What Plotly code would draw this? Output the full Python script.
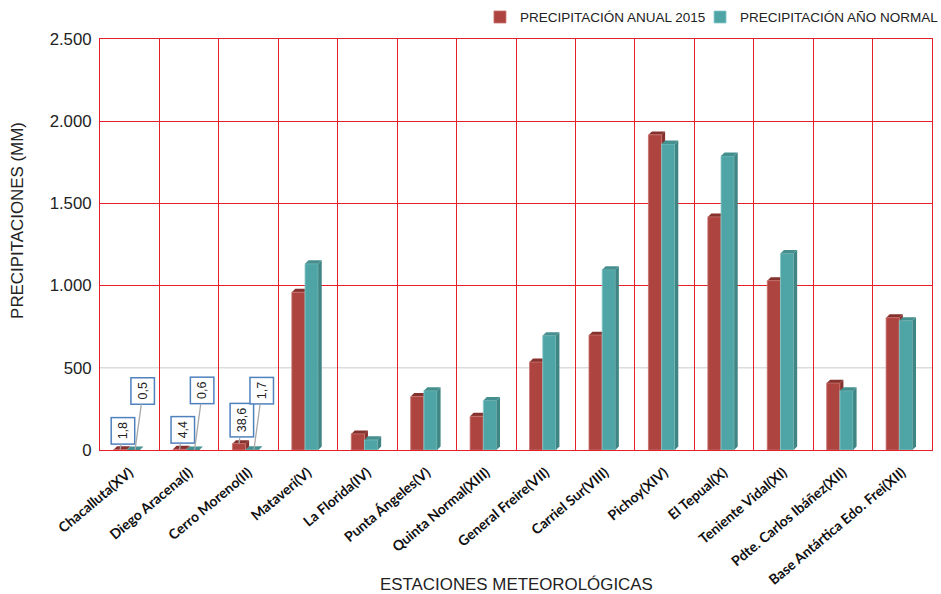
import plotly.graph_objects as go

# Estaciones meteorológicas y precipitaciones (mm)
estaciones = [
    "Chacalluta(XV)", "Diego Aracena(I)", "Cerro Moreno(II)", "Mataveri(V)",
    "La Florida(IV)", "Punta Ángeles(V)", "Quinta Normal(XIII)", "General Freire(VII)",
    "Carriel Sur(VIII)", "Pichoy(XIV)", "El Tepual(X)", "Teniente Vidal(XI)",
    "Pdte. Carlos Ibáñez(XII)", "Base Antártica Edo. Frei(XII)",
]
anual_2015 = [1.8, 4.4, 38.6, 960, 98, 325, 205, 535, 699, 1917, 1418, 1030, 407, 805]
ano_normal = [0.5, 0.6, 1.7, 1133, 62, 361, 301, 696, 1097, 1862, 1789, 1196, 361, 787]

# Valores rotulados en las estaciones del norte
rotulos_2015 = ["1,8", "4,4", "38,6"]
rotulos_normal = ["0,5", "0,6", "1,7"]

y_ticks = [0, 500, 1000, 1500, 2000, 2500]
y_grid_rojo = [1000, 1500, 2000]

ROJO = "#AE4440"
ROJO_OSC = "#85312E"
TEAL = "#4FA5A5"
TEAL_OSC = "#3E8583"
TEAL_TOP = "#458F8E"
GRID = "#E5202B"
FUENTE = "Liberation Sans, Arial"

ancho = 0.222     # ancho de cada barra (unidades de categoría)
desfase = -0.05   # desplazamiento del grupo respecto del centro
dx, dy = 0.059, 21  # profundidad del efecto 3D

idx = list(range(len(estaciones)))
x_rojo = [i + desfase - ancho / 2 for i in idx]
x_teal = [i + desfase + ancho / 2 for i in idx]

fig = go.Figure()
fig.add_trace(go.Bar(
    x=x_rojo, y=anual_2015, width=ancho, name="PRECIPITACIÓN ANUAL 2015",
    marker=dict(color=ROJO, line=dict(color="#C8726E", width=0.8)), legend="legend",
))
fig.add_trace(go.Bar(
    x=x_teal, y=ano_normal, width=ancho, name="PRECIPITACIÓN AÑO NORMAL",
    marker=dict(color=TEAL, line=dict(color="#8CCACA", width=0.8)), legend="legend2",
))
# eje auxiliar sólo para las líneas de cuadrícula rojas
fig.add_trace(go.Scatter(x=[None], y=[None], yaxis="y2", showlegend=False, hoverinfo="skip"))

shapes = [dict(type="line", xref="paper", x0=0, x1=1, yref="y", y0=500, y1=500,
               line=dict(color="#DCDCDC", width=1.6), layer="between")]


def caras(xc, v, top_col, side_col, layer):
    x0, x1 = xc - ancho / 2, xc + ancho / 2
    top = f"M {x0},{v} L {x0+dx},{v+dy} L {x1+dx},{v+dy} L {x1},{v} Z"
    side = f"M {x1},0 L {x1},{v} L {x1+dx},{v+dy} L {x1+dx},{dy} Z"
    return [
        dict(type="path", path=side, fillcolor=side_col, line=dict(width=0), layer=layer),
        dict(type="path", path=top, fillcolor=top_col, line=dict(width=0), layer=layer),
    ]


for xc, v in zip(x_rojo, anual_2015):
    shapes += caras(xc, v, ROJO_OSC, ROJO_OSC, "between")
for xc, v in zip(x_teal, ano_normal):
    shapes += caras(xc, v, TEAL_TOP, TEAL_OSC, "above")

annotations = []
box = dict(textangle=-90, bordercolor="#4F81BD", borderwidth=1.5, borderpad=4,
           bgcolor="white", font=dict(family=FUENTE, size=12.5, color="#222"),
           showarrow=True, arrowhead=0, arrowwidth=1.3, arrowcolor="#A8A8A8", standoff=0)
for i, txt in enumerate(rotulos_2015):
    annotations.append(dict(x=x_rojo[i], y=anual_2015[i], text=txt, ax=3,
                            ay=-19 if anual_2015[i] < 10 else -23, **box))
for i, txt in enumerate(rotulos_normal):
    annotations.append(dict(x=x_teal[i] + dx / 2, y=ano_normal[i], text=txt, ax=8,
                            ay=-59, **box))

annotations.append(dict(text="ESTACIONES METEOROLÓGICAS", xref="paper", yref="paper",
                        x=0.5, y=-0.328, yanchor="middle", showarrow=False,
                        font=dict(family=FUENTE, size=16.9, color="#222")))
annotations.append(dict(text="PRECIPITACIONES (MM)", xref="paper", yref="paper",
                        x=-0.099, y=0.559, xanchor="center", yanchor="middle", textangle=-90,
                        showarrow=False,
                        font=dict(family=FUENTE, size=16.9, color="#222")))

leyenda = dict(orientation="h", y=1.053, yanchor="middle", xanchor="left",
               font=dict(family=FUENTE, size=13.5, color="#222"),
               itemwidth=30, bgcolor="rgba(0,0,0,0)")

fig.update_layout(
    width=941, height=594,
    margin=dict(l=100, r=9, t=39, b=144, autoexpand=False),
    paper_bgcolor="white", plot_bgcolor="white",
    separators=",.",
    barmode="overlay",
    showlegend=True,
    legend=dict(x=0.4567, **leyenda),
    legend2=dict(x=0.7212, **leyenda),
    shapes=shapes,
    annotations=annotations,
    xaxis=dict(
        range=[-0.5, 13.5], tickmode="array", tickvals=idx, ticktext=estaciones,
        tickangle=-40, showgrid=False, zeroline=False,
        showline=True, linecolor=GRID, linewidth=1, mirror=True, ticks="",
        ticklabelstandoff=8,
        tickfont=dict(family="Lato", size=14, color="#111", weight="bold"),
        minor=dict(tickmode="array", tickvals=[i + 0.5 for i in idx[:-1]],
                   showgrid=True, gridcolor=GRID, gridwidth=1, ticks=""),
    ),
    yaxis=dict(
        range=[0, 2500], tickmode="array", tickvals=y_ticks, tickformat=",d",
        separatethousands=True, showgrid=False,
        zeroline=False, showline=True, linecolor=GRID, linewidth=1, mirror=True,
        ticks="", ticklabelstandoff=4,
        tickfont=dict(family=FUENTE, size=16.8, color="#222"),
    ),
    yaxis2=dict(
        range=[0, 2500], overlaying="y", side="left", tickmode="array",
        tickvals=y_grid_rojo, showticklabels=False, showgrid=True, gridcolor=GRID,
        gridwidth=1, zeroline=False, showline=False, ticks="",
    ),
)

fig.write_html("out.html")
